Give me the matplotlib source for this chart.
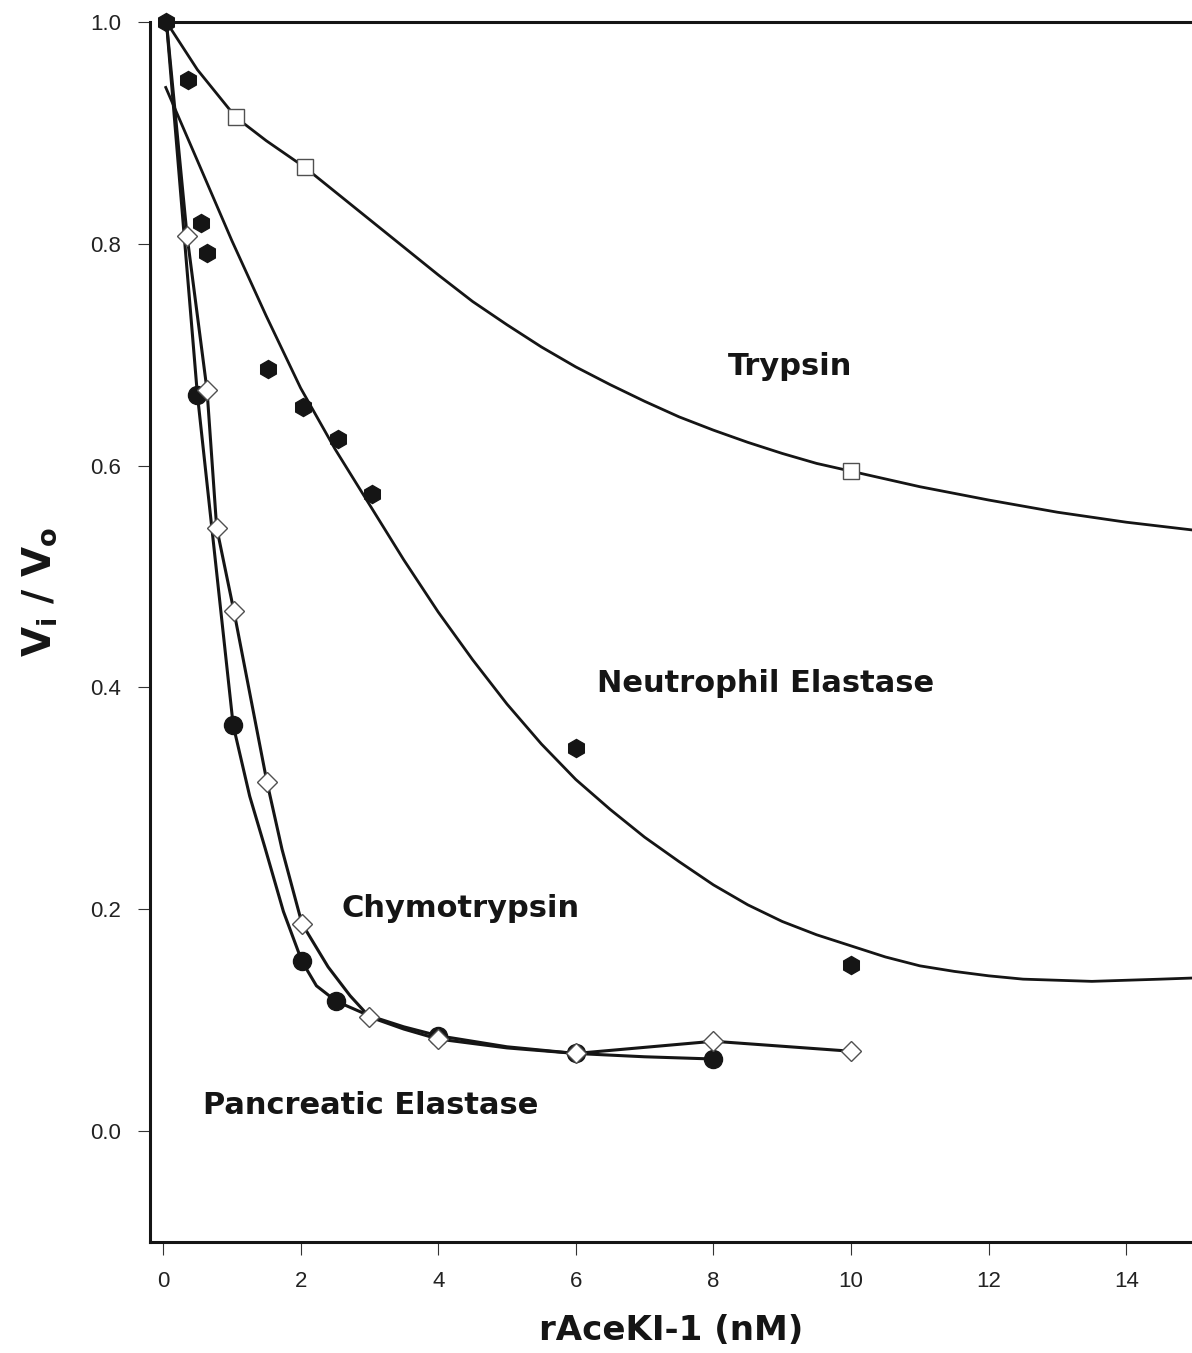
import numpy as np
import matplotlib
matplotlib.use("Agg")
import matplotlib.pyplot as plt

# rAceKI-1 inhibition of four serine proteases: residual activity Vi/Vo

plt.rcParams["font.family"] = ["Liberation Sans", "DejaVu Sans"]

# measured points
trypsin_x = [0.05, 1.06, 2.06, 10.0]
trypsin_y = [1.0, 0.914, 0.869, 0.595]

neut_x = [0.05, 0.36, 0.55, 0.64, 1.53, 2.04, 2.54, 3.04, 6.0, 10.0]
neut_y = [1.0, 0.948, 0.819, 0.792, 0.687, 0.653, 0.624, 0.574, 0.345, 0.150]

chymo_x = [0.05, 0.35, 0.64, 0.78, 1.03, 1.51, 2.02, 3.0, 4.0, 6.0, 8.0, 10.0]
chymo_y = [1.0, 0.807, 0.668, 0.544, 0.469, 0.315, 0.187, 0.103, 0.083, 0.070, 0.081, 0.072]

panc_x = [0.05, 0.50, 1.02, 2.02, 2.52, 4.0, 6.0, 8.0]
panc_y = [1.0, 0.664, 0.366, 0.153, 0.117, 0.086, 0.070, 0.065]

# connecting curves through chymotrypsin / pancreatic elastase points
chymo_line_x = [0.05, 0.35, 0.64, 0.78, 1.03, 1.51, 1.73, 2.02, 2.4, 2.72, 3.0,
                3.5, 4.0, 5.0, 6.0, 8.0, 10.0]
chymo_line_y = [1.0, 0.807, 0.668, 0.544, 0.469, 0.315, 0.254, 0.187, 0.148,
                0.122, 0.103, 0.092, 0.083, 0.075, 0.070, 0.081, 0.072]

panc_line_x = [0.05, 0.50, 1.02, 1.26, 1.48, 1.75, 2.02, 2.23, 2.52, 3.0, 3.5,
               4.0, 5.0, 6.0, 7.0, 8.0]
panc_line_y = [1.0, 0.664, 0.366, 0.302, 0.256, 0.198, 0.153, 0.131, 0.117,
               0.104, 0.094, 0.086, 0.076, 0.070, 0.067, 0.065]

# fitted curves (trypsin, neutrophil elastase)
trypsin_fit_x = [0.05, 0.5, 1.06, 1.5, 2.06, 2.5, 3.0, 3.5, 4.0, 4.5, 5.0, 5.5,
                 6.0, 6.5, 7.0, 7.5, 8.0, 8.5, 9.0, 9.5, 10.0, 11.0, 12.0,
                 13.0, 14.0, 14.96]
trypsin_fit_y = [1.0, 0.957, 0.914, 0.893, 0.869, 0.847, 0.822, 0.797, 0.772,
                 0.748, 0.727, 0.707, 0.689, 0.673, 0.658, 0.644, 0.632, 0.621,
                 0.611, 0.602, 0.595, 0.581, 0.569, 0.558, 0.549, 0.542]

neut_fit_x = [0.04, 0.5, 1.0, 1.5, 2.0, 2.5, 3.0, 3.5, 4.0, 4.5, 5.0, 5.5, 6.0,
              6.5, 7.0, 7.5, 8.0, 8.5, 9.0, 9.5, 10.0, 10.5, 11.0, 11.5, 12.0,
              12.5, 13.0, 13.5, 14.0, 14.5, 14.96]
neut_fit_y = [0.941, 0.875, 0.803, 0.735, 0.670, 0.615, 0.565, 0.515, 0.468,
              0.425, 0.385, 0.349, 0.317, 0.290, 0.265, 0.243, 0.222, 0.204,
              0.189, 0.177, 0.167, 0.157, 0.149, 0.144, 0.140, 0.137, 0.136,
              0.135, 0.136, 0.137, 0.138]

# uninhibited control level
control_x = [0.05, 15.0]
control_y = [1.0, 1.0]

x_ticks = [0, 2, 4, 6, 8, 10, 12, 14]
y_ticks = [0.0, 0.2, 0.4, 0.6, 0.8, 1.0]

ink = "#151515"
edge = "#505050"

fig = plt.figure(figsize=(11.92, 13.53), dpi=100)
ax = fig.add_axes([150 / 1192, 111 / 1353, 1042 / 1192, 1220 / 1353])

ax.plot(control_x, control_y, color=ink, lw=2.2, clip_on=False)
ax.plot(trypsin_fit_x, trypsin_fit_y, color=ink, lw=2.0, clip_on=False)
ax.plot(neut_fit_x, neut_fit_y, color=ink, lw=2.0, clip_on=False)
ax.plot(panc_line_x, panc_line_y, color=ink, lw=2.2, clip_on=False)
ax.plot(chymo_line_x, chymo_line_y, color=ink, lw=2.2, clip_on=False)

# the shared zero-dose point shows only the hexagon
ax.plot(panc_x[1:], panc_y[1:], ls="none", marker="o", ms=13, mfc=ink, mec=ink,
        clip_on=False, zorder=4)
ax.plot(neut_x, neut_y, ls="none", marker="h", ms=13, mfc=ink, mec=ink,
        clip_on=False, zorder=4.5)
ax.plot(chymo_x[1:], chymo_y[1:], ls="none", marker="D", ms=10.5, mfc="white",
        mec=edge, mew=1.0, clip_on=False, zorder=5)
ax.plot(trypsin_x[1:], trypsin_y[1:], ls="none", marker="s", ms=12, mfc="white",
        mec=edge, mew=1.0, clip_on=False, zorder=5)

ax.set_xlim(-0.189, 14.956)
ax.set_ylim(-0.1, 1.0)

for side in ["top", "right"]:
    ax.spines[side].set_visible(False)
for side in ["left", "bottom"]:
    ax.spines[side].set_linewidth(2.2)
    ax.spines[side].set_color(ink)

ax.set_xticks(x_ticks)
ax.set_xticklabels([str(t) for t in x_ticks])
ax.set_yticks(y_ticks)
ax.set_yticklabels(["%.1f" % t for t in y_ticks])
ax.tick_params(axis="both", direction="out", length=9, width=0.8, color="#333333",
               labelsize=16, labelcolor="#222222")
ax.tick_params(axis="x", pad=12)
ax.tick_params(axis="y", pad=12)

label_font = dict(family="DejaVu Sans", weight="bold", size=22, color=ink)
ax.text(8.21, 0.682, "Trypsin", va="baseline", ha="left", **label_font)
ax.text(6.31, 0.396, "Neutrophil Elastase", va="baseline", ha="left", **label_font)
ax.text(2.59, 0.193, "Chymotrypsin", va="baseline", ha="left", **label_font)
ax.text(0.58, 0.015, "Pancreatic Elastase", va="baseline", ha="left", **label_font)

ax.set_xlabel("rAceKI-1 (nM)", family="DejaVu Sans", weight="bold", size=24.5,
              color=ink, labelpad=16)
fig.text(40 / 1192, 1 - 592 / 1353, r"$\mathbf{V_i\ /\ V_o}$", rotation=90,
         ha="center", va="center", size=28, color=ink)

fig.savefig("out.png", dpi=100, facecolor="white")
